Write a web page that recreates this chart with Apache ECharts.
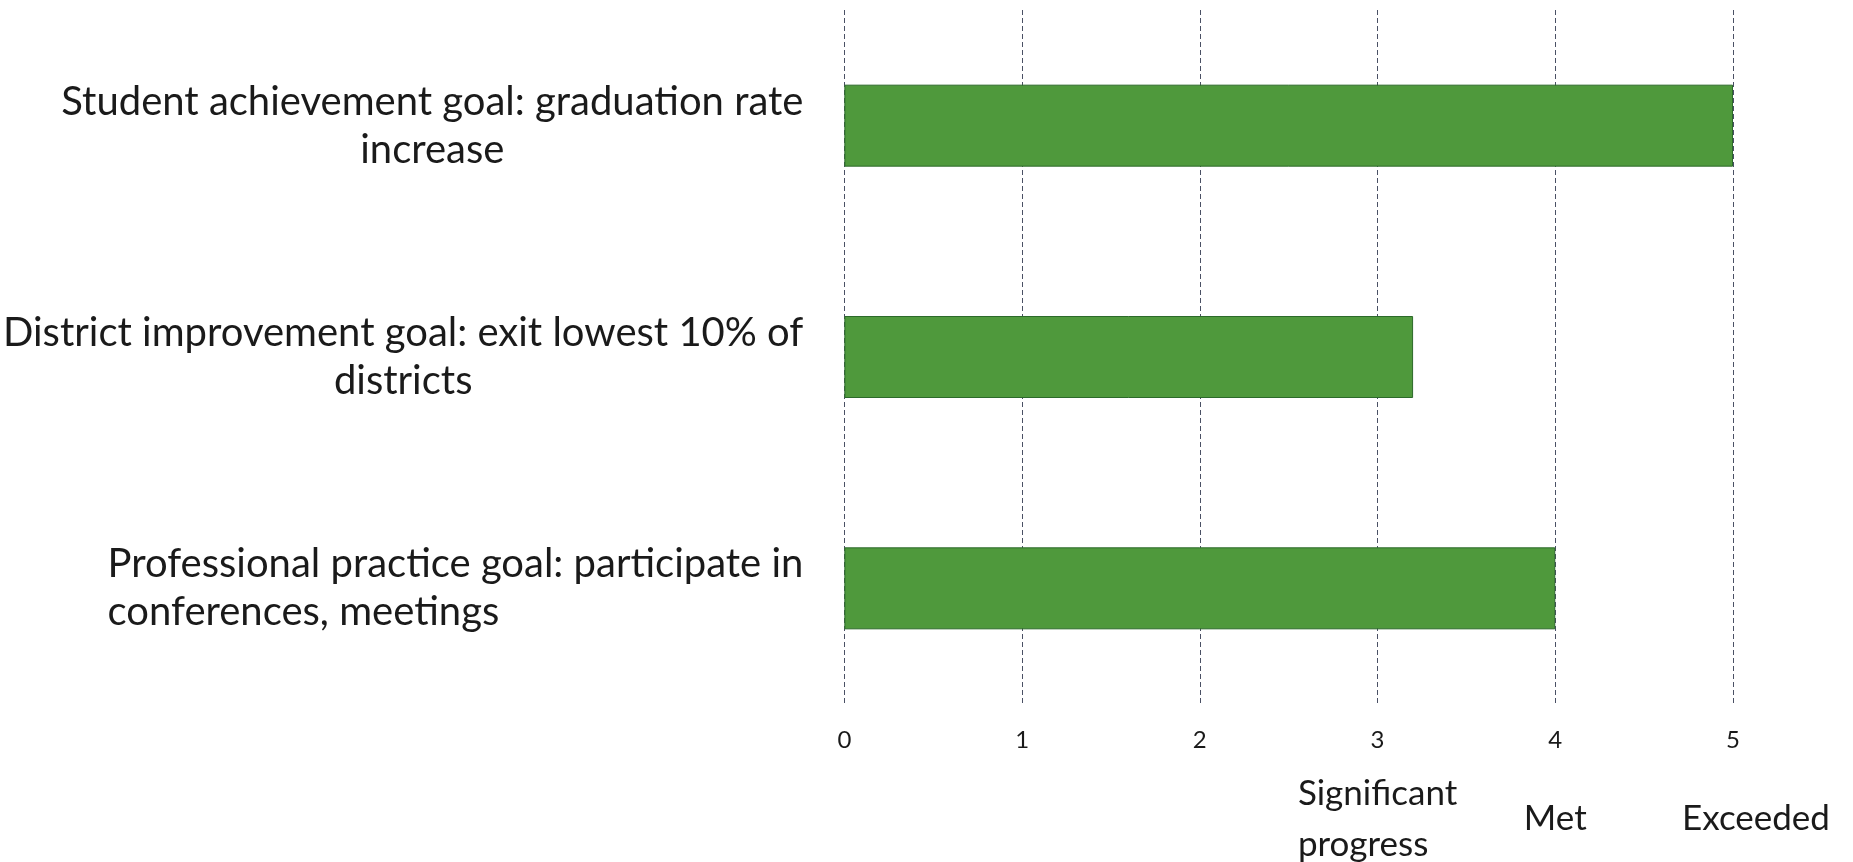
<!DOCTYPE html>
<html>
<head>
<meta charset="utf-8">
<script src="https://cdn.jsdelivr.net/npm/echarts@6/dist/echarts.min.js"></script>
<style>
html,body{margin:0;padding:0;background:#fff;}
#chart{width:1853px;height:862px;}
</style>
</head>
<body>
<div id="chart"></div>
<script>
// Data
var categories = [
  ['Student achievement goal: graduation rate', 'increase'],
  ['District improvement goal: exit lowest 10% of', 'districts'],
  ['Professional practice goal: participate in', 'conferences, meetings']
];
var lineAlign = ['c', 'c', 'l'];
var values = [5, 3.2, 4];
var tickValues = [0, 1, 2, 3, 4, 5];
var ratingLabels = { 3: ['Significant', 'progress'], 4: ['Met'], 5: ['Exceeded'] };

var FONT = 'Lato, "Open Sans", sans-serif';
var chart = echarts.init(document.getElementById('chart'));
var catNames = categories.map(function (c) { return c.join('\n'); });

chart.setOption({
  backgroundColor: '#ffffff',
  animation: false,
  grid: { left: 839, right: 120, top: 10, height: 696, containLabel: false },
  xAxis: [
    {
      type: 'value', min: 0, max: 5, interval: 1, position: 'bottom',
      axisLine: { show: false }, axisTick: { show: false },
      splitLine: { show: true, lineStyle: { color: '#4a5064', type: [5, 3], width: 1 } },
      axisLabel: { color: '#1a1a1a', fontFamily: FONT, fontSize: 24, margin: 24 }
    },
    {
      type: 'value', min: 0, max: 5, interval: 1, position: 'bottom',
      axisLine: { show: false }, axisTick: { show: false }, splitLine: { show: false },
      axisLabel: {
        margin: 115, verticalAlign: 'middle',
        formatter: function (v) {
          var r = ratingLabels[v];
          if (!r) return '';
          var tag = v === 5 ? 'x' : 'r';
          return r.map(function (s) { return '{' + tag + '|' + s + '}'; }).join('\n');
        },
        rich: {
          r: { fontFamily: FONT, fontSize: 35, lineHeight: 51, color: '#1a1a1a', align: 'left' },
          x: { fontFamily: FONT, fontSize: 35, lineHeight: 51, color: '#1a1a1a', align: 'left', padding: [0, 0, 0, 46] }
        }
      }
    }
  ],
  yAxis: {
    type: 'category', inverse: true, data: catNames,
    axisLine: { show: false }, axisTick: { show: false }, splitLine: { show: false },
    axisLabel: {
      margin: 41,
      formatter: function (v, i) {
        var t = lineAlign[i];
        return categories[i].map(function (s) { return '{' + t + '|' + s + '}'; }).join('\n');
      },
      rich: {
        c: { fontFamily: FONT, fontSize: 40, lineHeight: 48, color: '#1a1a1a', align: 'center' },
        l: { fontFamily: FONT, fontSize: 40, lineHeight: 48, color: '#1a1a1a', align: 'left' }
      }
    }
  },
  series: [{
    type: 'bar', xAxisIndex: 0, data: values, barWidth: 82,
    itemStyle: { color: '#4f993c', borderColor: '#2c6a2a', borderWidth: 1 }
  }]
});
</script>
</body>
</html>
